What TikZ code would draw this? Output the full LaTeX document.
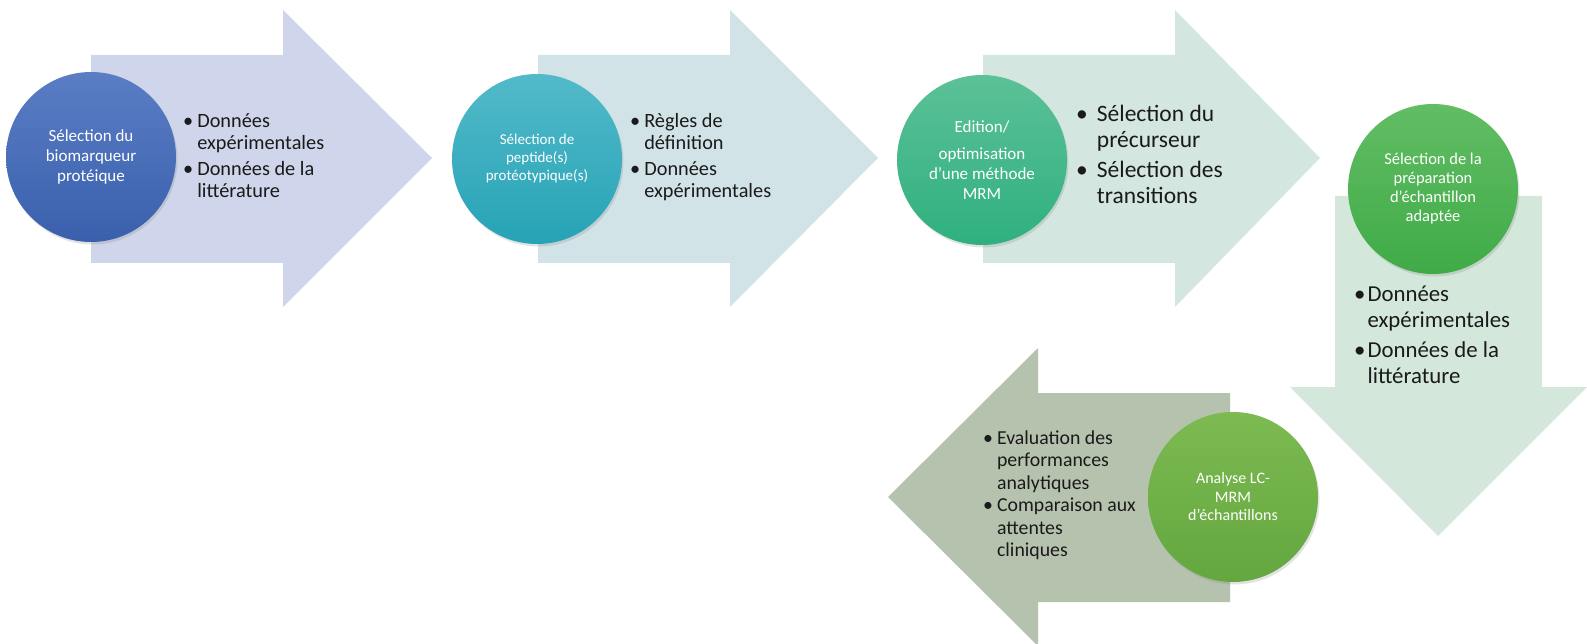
\documentclass[tikz,border=0pt]{standalone}
\usepackage{fontspec}
\setmainfont{Carlito}
\usetikzlibrary{shadows}
\definecolor{arrA}{HTML}{CFD5EA}
\definecolor{arrB}{HTML}{D2E3E8}
\definecolor{arrC}{HTML}{D3E7E0}
\definecolor{arrD}{HTML}{D3E7DB}
\definecolor{arrE}{HTML}{B5C2AE}
\definecolor{cAt}{HTML}{5A7DC4}\definecolor{cAb}{HTML}{3A60AD}
\definecolor{cBt}{HTML}{52BAC9}\definecolor{cBb}{HTML}{26A3B6}
\definecolor{cCt}{HTML}{5CC197}\definecolor{cCb}{HTML}{2FB07F}
\definecolor{cDt}{HTML}{62BD64}\definecolor{cDb}{HTML}{3FAB47}
\definecolor{cEt}{HTML}{7DBA52}\definecolor{cEb}{HTML}{63A73E}
\definecolor{txt}{HTML}{1A1A1A}
\newcommand\blist[2]{\begin{tabular}{@{}l@{\hspace{#1}}l@{}}#2\end{tabular}}
\tikzset{
  stepcircle/.style={circle, minimum size=170pt, inner sep=0pt, text=white, align=center,
    drop shadow={shadow xshift=1.5pt, shadow yshift=-2.5pt, opacity=0.22}},
  listtext/.style={anchor=west, inner sep=0pt, text=txt, align=left}
}
\begin{document}
\begin{tikzpicture}[x=1pt,y=-1pt]
\useasboundingbox (0,0) rectangle (1587,644);
% arrows
\fill[arrA] (91,55) -- (283,55) -- (283,10) -- (432,158) -- (283,307) -- (283,263) -- (91,263) -- cycle;
\fill[arrB] (538,55) -- (730,55) -- (730,10) -- (878,158) -- (730,307) -- (730,263) -- (538,263) -- cycle;
\fill[arrC] (983,55) -- (1175,55) -- (1175,10) -- (1320,158) -- (1175,307) -- (1175,263) -- (983,263) -- cycle;
\fill[arrD] (1335,196) -- (1542,196) -- (1542,387) -- (1587,387) -- (1438,536) -- (1290,387) -- (1335,387) -- cycle;
\fill[arrE] (1230,393) -- (1038,393) -- (1038,348) -- (888,497) -- (1038,646) -- (1038,602) -- (1230,602) -- cycle;
% circles
\node[stepcircle, top color=cAt, bottom color=cAb, font=\fontsize{17}{20}\selectfont] (c1) at (91,157)
  {Sélection du\\biomarqueur\\protéique};
\node[stepcircle, top color=cBt, bottom color=cBb, font=\fontsize{15}{18}\selectfont] (c2) at (537,159)
  {Sélection de\\peptide(s)\\protéotypique(s)};
\node[stepcircle, top color=cCt, bottom color=cCb, font=\fontsize{17}{20}\selectfont] (c3) at (982,160)
  {Edition/\\[7pt]optimisation\\d’une méthode\\MRM};
\node[stepcircle, top color=cDt, bottom color=cDb, font=\fontsize{16.5}{19}\selectfont] (c4) at (1433,189)
  {Sélection de la\\préparation\\d’échantillon\\adaptée};
\node[stepcircle, top color=cEt, bottom color=cEb, font=\fontsize{16}{18.5}\selectfont] (c5) at (1233,497)
  {Analyse LC-\\MRM\\d’échantillons};
% lists
\node[listtext, font=\fontsize{20.3}{22}\selectfont] (l1) at (183,158)
  {\blist{4pt}{\textbullet & Données\\ & expérimentales\\[4pt] \textbullet & Données de la\\ & littérature}};
\node[listtext, font=\fontsize{20.3}{22}\selectfont] (l2) at (630,158)
  {\blist{4pt}{\textbullet & Règles de\\ & définition\\[4pt] \textbullet & Données\\ & expérimentales}};
\node[listtext, font=\fontsize{23.5}{26.5}\selectfont] (l3) at (1076,157)
  {\blist{9pt}{\textbullet & Sélection du\\ & précurseur\\[3pt] \textbullet & Sélection des\\ & transitions}};
\node[listtext, font=\fontsize{22.8}{26.5}\selectfont] (l4) at (1354,337)
  {\blist{2pt}{\textbullet & Données\\ & expérimentales\\[3pt] \textbullet & Données de la\\ & littérature}};
\node[listtext, font=\fontsize{19.8}{22.5}\selectfont] (l5) at (983,496)
  {\blist{4pt}{\textbullet & Evaluation des\\ & performances\\ & analytiques\\ \textbullet & Comparaison aux\\ & attentes\\ & cliniques}};
\end{tikzpicture}
\end{document}
